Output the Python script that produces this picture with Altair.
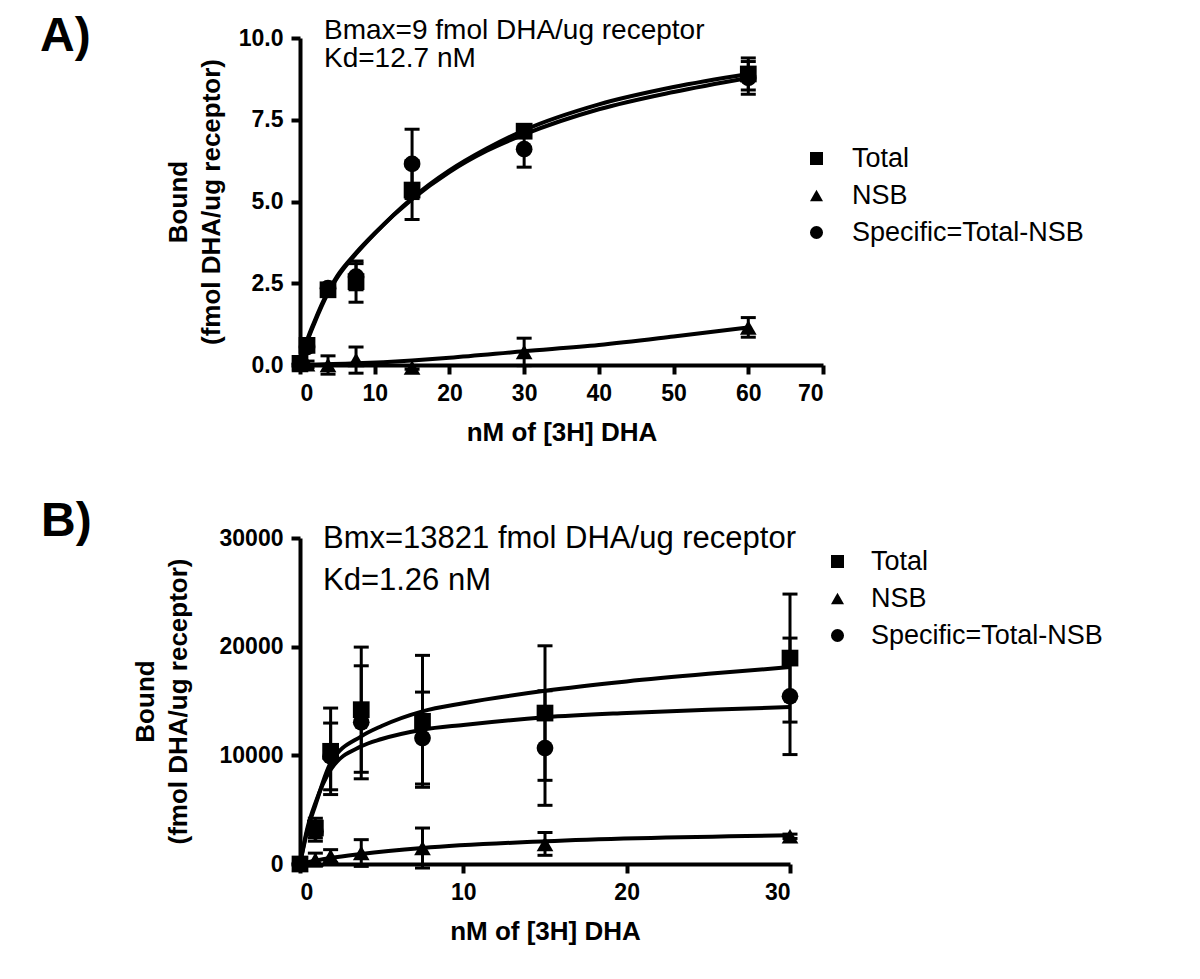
import altair as alt
import pandas as pd

FONT = "Liberation Sans"
SERIES = ["Total", "NSB", "Specific=Total-NSB"]
SHAPES = ["square", "triangle-up", "circle"]
X_TITLE = "nM of [3H] DHA"
Y_TITLE = ["Bound", "(fmol DHA/ug receptor)"]

# ---------------- Panel A ----------------
A_LETTER = "A)"
A_NOTES = ["Bmax=9 fmol DHA/ug receptor", "Kd=12.7 nM"]
A_XTICKS = [0, 10, 20, 30, 40, 50, 60, 70]
A_YTICKS = [0.0, 2.5, 5.0, 7.5, 10.0]
A_X = [0, 0.94, 3.75, 7.5, 15, 30, 60]
A_TOTAL = [0.05, 0.6, 2.3, 2.55, 5.35, 7.15, 8.9]
A_TOTAL_ERR = [0.05, 0.15, 0.1, 0.63, 0.9, 0.1, 0.49]
A_NSB = [0.0, 0.02, 0.0, 0.15, -0.08, 0.4, 1.15]
A_NSB_ERR = [0.05, 0.1, 0.28, 0.4, 0.05, 0.42, 0.3]
A_SPEC = [0.05, 0.55, 2.35, 2.7, 6.15, 6.6, 8.78]
A_SPEC_ERR = [0.05, 0.1, 0.1, 0.4, 1.06, 0.55, 0.5]
A_FIT_X = [0, 0.94, 1.875, 3.75, 5, 7.5, 10, 15, 20, 25, 30, 40, 50, 60]
A_FIT_TOTAL = [0, 0.7, 1.25, 2.2, 2.68, 3.4, 4.02, 5.1, 5.95, 6.62, 7.18, 7.97, 8.5, 8.9]
A_FIT_SPEC = [0, 0.75, 1.3, 2.25, 2.73, 3.43, 4.03, 5.07, 5.9, 6.55, 7.05, 7.82, 8.35, 8.78]
A_FIT_NSB_X = [0, 7.5, 15, 20, 30, 40, 50, 60]
A_FIT_NSB = [0, 0.05, 0.14, 0.22, 0.42, 0.61, 0.87, 1.15]

# ---------------- Panel B ----------------
B_LETTER = "B)"
B_NOTES = ["Bmx=13821 fmol DHA/ug receptor", "Kd=1.26 nM"]
B_XTICKS = [0, 10, 20, 30]
B_YTICKS = [0, 10000, 20000, 30000]
B_X = [0, 0.94, 1.875, 3.75, 7.5, 15, 30]
B_TOTAL = [0, 3310, 10370, 14200, 13130, 13890, 18950]
B_TOTAL_ERR = [0, 900, 3980, 5760, 6070, 6190, 5890]
B_NSB = [0, 400, 720, 1010, 1470, 1850, 2550]
B_NSB_ERR = [0, 600, 600, 1230, 1840, 1050, 200]
B_SPEC = [0, 3000, 9900, 13040, 11590, 10670, 15430]
B_SPEC_ERR = [0, 900, 3070, 5200, 4230, 5270, 5360]
B_FIT_X = [0, 0.47, 0.94, 1.875, 3.75, 5, 7.5, 10, 15, 20, 25, 30]
B_FIT_TOTAL = [0, 3200, 5400, 9300, 11750, 12700, 14050, 14800, 15940, 16800, 17500, 18120]
B_FIT_SPEC = [0, 3400, 5600, 8680, 10830, 11500, 12360, 12800, 13500, 13900, 14200, 14440]
B_FIT_NSB_X = [0, 0.94, 1.875, 3.75, 7.5, 15, 30]
B_FIT_NSB = [0, 300, 550, 920, 1470, 2090, 2640]


def points_df(xs, groups):
    rows = []
    for name, vals, errs in groups:
        for x, v, e in zip(xs, vals, errs):
            rows.append({"x": x, "y": v, "err": e, "series": name})
    return pd.DataFrame(rows)


def fits_df(groups):
    rows = []
    for name, xs, vals in groups:
        for x, v in zip(xs, vals):
            rows.append({"x": x, "y": v, "series": name})
    return pd.DataFrame(rows)


def text_layer(txt, px, py, size, weight="normal"):
    return alt.Chart(pd.DataFrame({"t": [txt]})).mark_text(
        align="left", baseline="alphabetic", font=FONT, fontSize=size,
        fontWeight=weight, color="black"
    ).encode(text="t:N", x=alt.value(px), y=alt.value(py))


def panel(pts, fits, xdom, xticks, ydom, yticks, yfmt, w, h, notes, note_pos,
          note_size, letter, letter_pos, legend_pos, label_offset, row_pad, title_pad):
    xscale = alt.Scale(domain=xdom, nice=False, zero=False)
    yscale = alt.Scale(domain=ydom, nice=False, zero=False)
    xaxis = alt.Axis(values=xticks, format="d", title=X_TITLE)
    yaxis = alt.Axis(values=yticks, format=yfmt, title=Y_TITLE, titlePadding=title_pad)

    def X(f):
        return alt.X(f"{f}:Q", scale=xscale, axis=xaxis)

    def Y(f):
        return alt.Y(f"{f}:Q", scale=yscale, axis=yaxis)

    curves = alt.Chart(fits).mark_line(
        color="black", strokeWidth=4, interpolate="monotone"
    ).encode(X("x"), Y("y"), detail="series:N")

    eb = alt.Chart(pts).transform_calculate(
        lo="datum.y - datum.err", hi="datum.y + datum.err"
    )
    rule = eb.mark_rule(color="black", strokeWidth=3).encode(
        X("x"), Y("lo"), y2="hi:Q")
    cap_hi = eb.mark_tick(orient="horizontal", color="black", thickness=3,
                          size=15, opacity=1).encode(X("x"), Y("hi"))
    cap_lo = eb.mark_tick(orient="horizontal", color="black", thickness=3,
                          size=15, opacity=1).encode(X("x"), Y("lo"))

    pts_layer = alt.Chart(pts).mark_point(
        filled=True, opacity=1, size=280, color="black"
    ).encode(
        X("x"), Y("y"),
        shape=alt.Shape(
            "series:N",
            scale=alt.Scale(domain=SERIES, range=SHAPES),
            legend=alt.Legend(
                orient="none", legendX=legend_pos[0], legendY=legend_pos[1],
                title=None, labelFont=FONT, labelFontSize=27,
                labelColor="black", labelLimit=500, symbolSize=170,
                symbolFillColor="black", symbolStrokeColor="black",
                symbolStrokeWidth=0, rowPadding=row_pad, labelOffset=label_offset,
                padding=0,
            ),
        ),
    )

    texts = [
        text_layer(notes[0], note_pos[0], note_pos[1], note_size),
        text_layer(notes[1], note_pos[0], note_pos[2], note_size),
        text_layer(letter, letter_pos[0], letter_pos[1], 48, "bold"),
    ]
    return alt.layer(curves, rule, cap_hi, cap_lo, pts_layer, *texts).properties(
        width=w, height=h)


ptsA = points_df(A_X, [("Total", A_TOTAL, A_TOTAL_ERR), ("NSB", A_NSB, A_NSB_ERR),
                       ("Specific=Total-NSB", A_SPEC, A_SPEC_ERR)])
fitA = fits_df([("Total", A_FIT_X, A_FIT_TOTAL), ("Specific=Total-NSB", A_FIT_X, A_FIT_SPEC),
                ("NSB", A_FIT_NSB_X, A_FIT_NSB)])
ptsB = points_df(B_X, [("Total", B_TOTAL, B_TOTAL_ERR), ("NSB", B_NSB, B_NSB_ERR),
                       ("Specific=Total-NSB", B_SPEC, B_SPEC_ERR)])
fitB = fits_df([("Total", B_FIT_X, B_FIT_TOTAL), ("Specific=Total-NSB", B_FIT_X, B_FIT_SPEC),
                ("NSB", B_FIT_NSB_X, B_FIT_NSB)])

pA = panel(ptsA, fitA, [0, 70], A_XTICKS, [0, 10], A_YTICKS, ".1f", 523, 327,
           A_NOTES, (24, 1, 29), 28, A_LETTER, (-260, 13), (503, 107), 22, 9, 14)
pB = panel(ptsB, fitB, [0, 30], B_XTICKS, [0, 30000], B_YTICKS, "d", 490, 326,
           B_NOTES, (23, 10, 52), 31, B_LETTER, (-259, -2), (524, 10), 20, 9, 28)

chart = alt.vconcat(pA, pB, spacing=173, bounds="flush").resolve_scale(
    shape="independent", x="independent", y="independent"
).resolve_legend(shape="independent").configure_axis(
    domainColor="black", domainWidth=4, tickColor="black", tickWidth=4,
    tickSize=9, labelFont=FONT, labelFontSize=23, labelFontWeight="bold",
    labelColor="black", titleFont=FONT, titleFontSize=26, titleFontWeight="bold",
    titleColor="black", grid=False, titleLineHeight=33
).configure_axisX(labelPadding=8, titlePadding=14).configure_axisY(
    labelPadding=8
).configure_view(stroke=None).properties(
    padding={"left": 32, "top": 5, "right": 10, "bottom": 10}
)

chart.save("out.html", embed_options={"renderer": "svg", "actions": False})
